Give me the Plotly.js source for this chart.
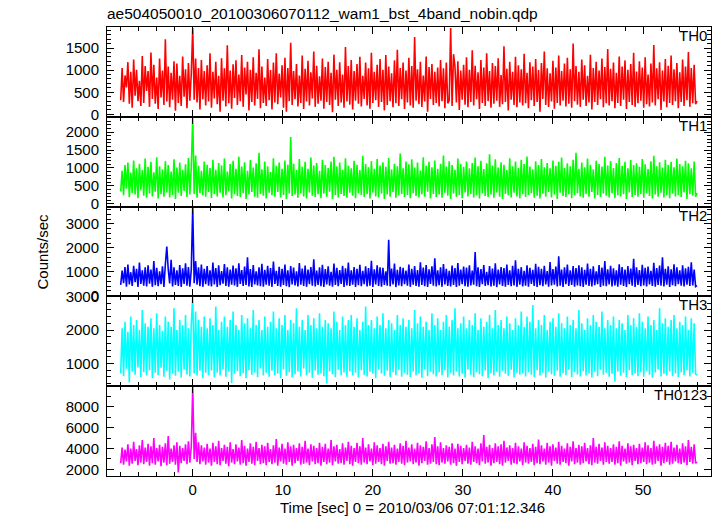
<!DOCTYPE html>
<html>
<head>
<meta charset="utf-8">
<script src="https://cdn.plot.ly/plotly-3.0.1.min.js"></script>
<style>html,body{margin:0;padding:0;background:#fff;}#chart{width:717px;height:516px;}</style>
</head>
<body>
<div id="chart"></div>
<script>
// Time bins: start time and bin width (seconds)
const T0 = -8.0;
const DT = 0.16;
const bandNames = ["TH0", "TH1", "TH2", "TH3", "TH0123"];
const bandColors = ["#ff0000", "#00ff00", "#0000ff", "#00ffff", "#ff00ff"];

const TH0 = [
320,1050,280,880,610,1180,240,960,150,1240,420,1010,300,760,190,1320,260,1090,530,980,
170,1400,350,1120,240,830,120,1260,380,990,210,1700,290,1080,160,940,330,1200,80,1150,
260,870,190,1310,400,1020,140,1160,310,920,1950,330,1260,270,1050,110,1230,340,980,200,
1110,290,1380,150,960,360,1190,230,870,60,1270,310,1040,180,1560,250,990,130,1130,370,
1220,210,900,300,1340,170,1060,450,1190,90,1010,280,1290,200,940,350,1470,140,1080,260,
830,190,1250,320,1000,110,1170,270,1380,230,920,380,1110,150,1280,60,1050,300,1620,210,
980,340,1140,180,880,260,1330,120,1030,290,1210,200,950,360,1420,170,1100,240,860,310,
1260,130,1070,280,1190,210,940,50,1350,330,1010,190,1180,270,900,150,1520,290,1090,220,
1230,110,980,310,1140,240,1300,180,870,350,1170,200,1040,130,1390,260,960,320,1120,170,
1250,280,1010,90,1340,210,1080,300,930,160,1220,250,1460,190,1050,340,1170,120,990,270,
1280,200,1090,150,1750,310,1020,230,1190,170,880,290,1310,60,1070,350,1140,210,960,260,
1060,180,1230,300,1040,140,1170,250,320,1950,190,1360,1080,270,1200,100,990,330,1120,220,
1290,160,1010,280,1450,200,1100,340,950,120,1230,260,1060,190,1380,300,980,150,1160,240,
1090,310,1270,170,890,230,1540,280,1030,90,1190,330,960,210,1300,160,1110,270,1020,200,
1370,250,940,140,1180,320,1080,190,1250,280,1000,60,1160,350,1420,210,1040,170,930,290,
1210,130,1060,260,1330,200,980,310,1150,180,1280,240,1020,150,1600,300,1090,220,960,170,
1240,330,1110,190,870,270,1350,110,1050,280,1190,210,990,340,1260,160,1070,250,1480,200,
1030,300,1170,140,940,260,1310,190,1080,330,1220,120,1010,280,1140,210,1390,170,970,250,
1200,310,1060,150,1290,230,900,180,1150,270,1570,200,1040,340,1180,100,990,290,1250,160,
1100,260,1330,210,1020,300,1160,140,950,280,1240,190,1080,320,1410,170,1050,250,1120,230,
300];

const TH1 = [
350,920,240,1080,420,1150,190,870,300,1210,260,990,160,1120,380,940,230,1260,170,1030,
290,1170,210,880,340,1300,150,1050,270,960,200,1190,320,1080,180,900,250,1240,140,1010,
310,1150,220,950,360,1100,190,1280,260,1020,2400,280,1350,170,1060,300,920,240,1180,200,
1090,330,1000,160,1230,280,950,210,1140,310,1070,180,1260,240,900,350,1110,150,1200,270,
980,220,1310,190,1040,300,1160,140,920,260,1220,330,1010,200,1130,170,1420,280,960,230,
1180,150,1050,310,890,240,1270,200,1060,330,1150,180,980,250,1210,140,1090,290,1860,220,
1120,260,940,170,1250,300,1030,210,1170,150,980,320,1290,230,1070,190,1140,270,920,160,
1230,290,1080,200,1000,340,1180,140,1310,250,1040,180,1150,280,950,220,1270,170,1060,310,
990,230,1200,160,1090,300,940,250,1340,190,1110,270,1020,150,1190,320,980,210,1250,180,
1070,290,1160,140,1030,260,1280,200,960,330,1120,170,1050,240,1400,280,990,190,1180,250,
1100,160,1240,300,1010,220,1150,180,930,270,1300,200,1060,340,1170,150,1020,280,1210,190,
980,260,1120,170,1350,310,1040,230,1190,140,1080,290,950,200,1260,250,1110,160,1030,320,
1180,210,990,280,1140,180,1290,240,1050,150,1200,300,970,220,1130,190,1380,260,1070,170,
1240,320,1010,200,1160,140,1090,280,940,240,1270,180,1050,310,1180,210,1000,160,1230,270,
1110,190,1320,250,1040,300,960,170,1190,230,1080,150,1250,290,1020,200,1140,330,990,180,
1210,260,1060,140,1170,310,1290,220,1000,190,1130,270,1050,160,1230,240,1420,300,980,210,
1150,170,1020,280,1260,200,1090,330,960,150,1200,250,1110,190,1040,290,1310,230,1070,180,
1190,300,1000,160,1140,240,1280,210,1060,270,1170,140,990,320,1220,190,1080,250,1130,200,
1030,280,1250,170,1100,300,970,220,1190,150,1340,260,1050,200,1160,310,1010,180,1230,240,
1080,160,1170,290,1020,210,1260,250,1110,190,1050,320,1200,140,1130,270,990,230,1180,200,
300];

const TH2 = [
450,1050,520,1200,380,1300,470,980,410,1250,560,1120,360,1380,490,1060,420,1180,390,1270,
500,1090,370,1450,440,1160,400,1020,480,1230,360,1310,2050,1100,510,1500,390,1180,450,1060,
410,1280,370,1140,490,1350,420,1200,380,1090,3700,520,1450,460,1180,400,1300,370,1120,480,
1240,420,1060,390,1380,470,1150,360,1270,440,1030,500,1320,410,1190,380,1090,460,1260,430,
1140,370,1350,490,1070,410,1220,450,1600,390,1110,360,1280,470,1020,430,1190,400,1330,380,
1080,460,1250,420,1150,370,1430,490,1040,410,1210,380,1120,450,1300,400,1060,360,1240,470,
1170,430,1020,390,1360,460,1130,410,1260,370,1090,480,1200,420,1520,390,1050,450,1180,400,
1290,360,1110,470,1230,420,1000,380,1340,450,1160,400,1070,490,1250,360,1140,430,1380,410,
1060,460,1200,370,1120,440,1290,400,1040,480,1230,390,1150,420,1460,360,1100,470,1270,410,
1180,380,1160,450,1020,420,2330,390,1130,470,1340,360,1080,430,1210,400,1160,480,1050,420,
1300,370,1120,460,1240,410,1070,380,1390,450,1170,400,1280,360,1100,490,1230,420,1560,390,
1060,440,1190,370,1320,470,1120,410,1040,390,1260,450,1150,360,1360,420,1090,480,1220,400,
1170,380,1270,430,1050,460,1820,400,1190,370,1110,480,1280,410,1000,440,1240,390,1130,420,
1350,360,1090,470,1200,410,1150,380,1300,450,1060,400,1250,430,1480,370,1120,460,1190,390,
1040,420,1270,380,1160,490,1080,410,1330,360,1210,440,1120,400,1250,470,1030,380,1400,430,
1110,460,1220,390,1650,420,1090,370,1180,480,1300,410,1060,450,1240,380,1150,430,1270,400,
1190,370,1080,460,1340,410,1120,390,1230,440,1020,480,1280,360,1170,420,1450,400,1100,470,
1250,390,1140,430,1060,380,1310,460,1200,410,1090,370,1240,480,1130,420,1540,360,1180,450,
1070,400,1290,430,1160,390,1220,470,1040,410,1370,380,1150,450,1260,420,1600,390,1120,460,
1230,370,1100,440,1310,400,1180,480,1060,420,1270,390,1140,460,1210,410,1390,430,1090,380,
420];

const TH3 = [
700,2050,620,2250,840,1950,430,2400,760,2150,660,2300,880,2000,590,2600,740,2200,640,2100,
800,2350,560,2050,720,2500,650,2150,870,1980,600,2400,780,2250,520,2100,700,2650,630,2000,
750,2300,580,2150,820,2450,670,2050,610,2200,3000,700,2550,640,2300,780,2100,560,2400,720,
2050,650,2350,790,2150,580,2700,720,2000,640,2250,830,2400,600,2100,750,2300,410,2550,690,
2150,770,2000,620,2450,710,2200,560,2350,800,2050,660,2600,730,2150,590,2300,850,2000,640,
2400,720,2100,600,2250,780,2550,650,2050,700,2350,560,2150,820,2450,630,2000,740,2300,590,
2200,680,2650,760,2100,610,2300,850,2000,640,2450,720,2150,570,2350,790,2050,660,2500,700,
2100,620,2300,400,2200,760,2050,680,2550,590,2250,810,2000,650,2400,730,2150,600,2300,770,
2450,640,2100,720,2350,580,2000,800,2250,660,2700,610,2150,750,2300,690,2050,560,2400,820,
2150,700,2500,630,2050,780,2300,590,2200,740,2000,650,2450,810,2150,600,2350,720,2100,660,
2300,590,2050,760,2600,640,2200,700,2400,570,2100,830,2250,620,2000,750,2500,680,2150,610,
2350,740,2000,650,2250,800,2450,580,2100,720,2300,640,2650,760,2050,610,2200,700,2400,570,
2050,820,2300,660,2150,590,2500,740,2000,680,2350,620,2100,790,2250,560,2450,710,2050,640,
2600,750,2150,600,2300,780,2050,690,2400,630,2200,810,2000,580,2350,720,2150,660,2550,700,
2100,610,2400,740,2250,660,2750,590,2050,800,2300,640,2150,720,2450,570,2000,760,2250,680,
2350,630,2100,780,2500,600,2200,710,2050,650,2400,820,2150,590,2300,740,2050,670,2600,610,
2200,770,2000,640,2350,700,2150,580,2450,750,2250,620,2100,810,2550,660,2050,720,2300,600,
2150,690,2400,450,2050,760,2300,630,2200,720,2000,590,2450,800,2150,650,2350,700,2100,620,
2500,740,2250,600,2050,780,2400,660,2150,570,2300,730,2000,820,2650,610,2200,690,2350,640,
2100,760,2300,620,2450,700,2050,590,2250,740,2150,650,2400,800,2000,610,2350,720,2200,680,
650];

const TH0123 = [
2600,4100,2450,3900,2750,4400,2350,4000,2550,4650,2800,3950,2400,4300,2650,4800,2500,4100,2700,4450,
2350,4200,2600,5000,2450,4050,2750,4350,2300,4150,2650,4500,2400,5200,2550,4000,2700,4300,2450,4600,
1700,4250,2600,4050,2800,4400,2500,4700,2650,4200,9900,3000,5500,2700,4600,2500,4300,2750,4100,2450,
4450,2650,4000,2350,4550,2700,4200,2500,4750,2400,4050,2800,4350,2550,4150,2300,4600,2650,3950,2500,
4400,2750,4100,2450,4800,2600,4250,2350,4000,2700,4500,2550,4150,2400,4650,2800,4050,2500,4350,2600,
4200,2400,4550,2700,3950,2500,4300,2650,4900,2350,4100,2750,4450,2550,4000,2450,4600,2700,4200,2350,
4350,2600,4050,2800,4500,2450,4150,2550,4750,2650,4000,2400,4400,2750,4250,2500,4050,2600,4550,2350,
4150,2700,4450,2500,4000,2650,4800,2400,4200,2750,4350,2550,3950,2600,4500,2450,4100,2800,4650,2500,
4250,2350,4050,2700,4550,2600,4200,2450,5000,2650,4100,2500,4400,2750,4000,2400,4600,2550,4300,2700,
4050,2500,4450,2350,4200,2800,4650,2550,4100,2600,4350,2450,4000,2700,4500,2550,4250,2400,4750,2650,
4100,2750,4400,2500,4000,2650,4550,2350,4300,2600,4150,2800,4700,2450,4050,2550,4400,2700,5100,2500,
4200,2400,4600,2650,4050,2550,4300,2750,4150,2450,4500,2600,4000,2350,4450,2700,4250,2500,4050,2800,
4350,2550,4100,2450,4650,2700,4200,2600,4000,2400,4500,2750,5300,2550,4150,2650,4350,2350,4050,2600,
4500,2700,4200,2500,4400,2350,4750,2650,4100,2800,4300,2450,4050,2600,4550,2500,4200,2750,4000,2400,
4600,2650,4250,2550,4050,2700,4450,2400,4150,2600,4850,2500,4300,2750,4000,2450,4550,2650,4200,2350,
4400,2800,4100,2550,4650,2450,4250,2700,4000,2600,4500,2350,4150,2750,4700,2500,4050,2650,4350,2450,
4200,2600,4550,2750,4050,2500,4300,2400,5000,2650,4150,2550,4450,2800,4100,2450,4600,2700,4250,2550,
4050,2700,4400,2450,4150,2600,4700,2350,4250,2750,4000,2550,4500,2650,4200,2400,4350,2800,4050,2500,
4450,2600,4100,2700,4600,2500,4300,2650,4050,2450,4750,2550,4200,2800,4400,2350,4150,2600,4550,2700,
4250,2450,4650,2550,4100,2750,4350,2600,4000,2500,4500,2650,4200,2400,4800,2700,4150,2550,4400,2600,
2700];

const series = [TH0, TH1, TH2, TH3, TH0123];
const yRanges = [[-55, 1975], [-75, 2425], [-30, 3720], [320, 3005], [1360, 9980]];
const yDticks = [500, 500, 1000, 1000, 2000];
const yMinor = [100, 100, 200, 200, 1000];
const xRange = [-9.52, 57.55];

const FONT = "Liberation Sans, Arial, Helvetica, sans-serif";
const traces = [];
const layout = {
  width: 717, height: 516,
  margin: {l: 107, r: 6, t: 27, b: 40, pad: 0},
  paper_bgcolor: "#ffffff", plot_bgcolor: "#ffffff",
  showlegend: false,
  font: {family: FONT, size: 15, color: "#000"},
  title: {text: "ae504050010_20100306070112_wam1_bst_4band_nobin.qdp",
          x: 0, xref: "paper", xanchor: "left", y: 1 - 14/516, yref: "container", yanchor: "middle",
          font: {family: FONT, size: 15.5, color: "#000"}},
  annotations: []
};

const n = series.length;
for (let k = 0; k < n; k++) {
  const vals = series[k];
  const t = vals.map((_, i) => T0 + i * DT);
  const sfx = k === 0 ? "" : String(k + 1);
  traces.push({x: t, y: vals, type: "scatter", mode: "lines",
    line: {color: bandColors[k], width: 1.6, simplify: false}, xaxis: "x" + sfx, yaxis: "y" + sfx, hoverinfo: "skip"});
  const top = 1 - k / n, bot = 1 - (k + 1) / n;
  layout["xaxis" + sfx] = {
    domain: [0, 1], anchor: "y" + sfx, range: xRange,
    showgrid: false, zeroline: false, showline: true, linecolor: "#000", linewidth: 1, mirror: "allticks",
    ticks: "inside", ticklen: 7, tickwidth: 1, tickcolor: "#000", dtick: 10, tick0: 0,
    minor: {ticks: "inside", ticklen: 4, dtick: 2, tick0: 0, tickcolor: "#000", tickwidth: 1},
    showticklabels: k === n - 1, tickfont: {family: FONT, size: 15, color: "#000"}
  };
  if (k > 0) layout["xaxis" + sfx].matches = "x";
  layout["yaxis" + sfx] = {
    domain: [bot, top], anchor: "x" + sfx, range: yRanges[k],
    showgrid: false, zeroline: false, showline: true, linecolor: "#000", linewidth: 1, mirror: "allticks",
    ticks: "inside", ticklen: 7, tickwidth: 1, tickcolor: "#000", dtick: yDticks[k], tick0: 0,
    tickformat: "d",
    minor: {ticks: "inside", ticklen: 4, dtick: yMinor[k], tick0: 0, tickcolor: "#000", tickwidth: 1},
    tickfont: {family: FONT, size: 15, color: "#000"}, ticklabelstandoff: 4
  };
  layout.annotations.push({text: bandNames[k], xref: "paper", yref: "paper", x: 1, y: top,
    xanchor: "right", yanchor: "top", xshift: -2, yshift: 2, showarrow: false,
    font: {family: FONT, size: 15, color: "#000"}});
}
layout.annotations.push({text: "Counts/sec", xref: "paper", yref: "paper", x: 0, y: 0.5,
  xanchor: "center", yanchor: "middle", xshift: -65, textangle: -90, showarrow: false,
  font: {family: FONT, size: 15, color: "#000"}});
layout.annotations.push({text: "Time [sec] 0 = 2010/03/06 07:01:12.346", xref: "paper", yref: "paper",
  x: (412 - 107) / 604, y: 0, xanchor: "center", yanchor: "middle", yshift: -31, showarrow: false,
  font: {family: FONT, size: 15, color: "#000"}});

Plotly.newPlot("chart", traces, layout, {displayModeBar: false, staticPlot: true});
</script>
</body>
</html>
